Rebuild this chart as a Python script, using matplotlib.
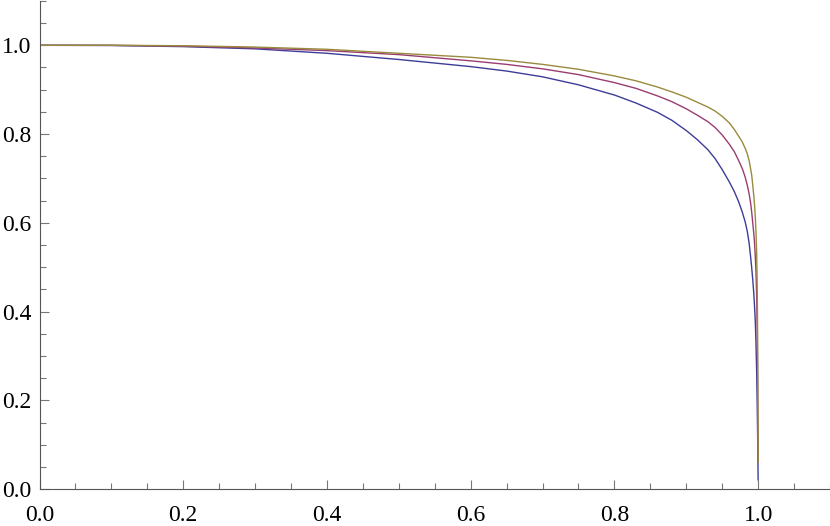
import numpy as np
import matplotlib.pyplot as plt
from matplotlib.ticker import MultipleLocator

plt.rcParams['font.family'] = 'serif'
plt.rcParams['font.serif'] = ['Liberation Serif', 'DejaVu Serif']

# values
x_blue = [0, 0.1, 0.2, 0.3, 0.4, 0.5, 0.6, 0.65, 0.7, 0.75, 0.8, 0.83, 0.86, 0.88, 0.9, 0.915, 0.93, 0.94,
          0.95, 0.96, 0.967, 0.973, 0.978, 0.982, 0.985, 0.9875, 0.9895, 0.991, 0.9925, 0.994, 0.995,
          0.996, 0.997, 0.998, 0.9987, 0.9993, 1.0]
y_blue = [1.0, 0.9995, 0.997, 0.992, 0.982, 0.968, 0.952, 0.942, 0.929, 0.911, 0.888, 0.870, 0.849, 0.831, 0.808, 0.788, 0.765, 0.745,
          0.720, 0.692, 0.670, 0.647, 0.624, 0.602, 0.580, 0.554, 0.524, 0.50, 0.472, 0.440, 0.412,
          0.380, 0.330, 0.26, 0.19, 0.12, 0.021]

x_purple = [0, 0.1, 0.2, 0.3, 0.4, 0.5, 0.6, 0.65, 0.7, 0.75, 0.8, 0.83, 0.86, 0.88, 0.9, 0.915, 0.93, 0.94,
            0.95, 0.96, 0.967, 0.973, 0.978, 0.982, 0.985, 0.9875, 0.9895, 0.991, 0.9925, 0.994, 0.995,
            0.996, 0.997, 0.998, 0.9987, 0.9993, 1.0]
y_purple = [1.0, 1.0, 0.998, 0.994, 0.988, 0.979, 0.965, 0.957, 0.947, 0.934, 0.916, 0.903, 0.886, 0.873, 0.857, 0.843, 0.828, 0.815,
            0.798, 0.777, 0.760, 0.740, 0.722, 0.703, 0.684, 0.665, 0.645, 0.625, 0.600, 0.575, 0.555,
            0.525, 0.490, 0.43, 0.36, 0.25, 0.062]

x_gold = [0, 0.1, 0.2, 0.3, 0.4, 0.5, 0.6, 0.65, 0.7, 0.75, 0.8, 0.83, 0.86, 0.88, 0.9, 0.915, 0.93, 0.94,
          0.95, 0.96, 0.967, 0.973, 0.978, 0.982, 0.985, 0.9875, 0.9895, 0.991, 0.9925, 0.994, 0.995,
          0.996, 0.997, 0.998, 0.9987, 0.9993, 1.0]
y_gold = [1.0, 1.0, 0.999, 0.996, 0.991, 0.982, 0.973, 0.966, 0.957, 0.946, 0.931, 0.920, 0.906, 0.895, 0.883, 0.872, 0.861, 0.852,
          0.840, 0.825, 0.810, 0.795, 0.782, 0.768, 0.755, 0.740, 0.722, 0.708, 0.685, 0.660, 0.640,
          0.615, 0.580, 0.53, 0.46, 0.35, 0.062]

fig = plt.figure(figsize=(8.3, 5.26), dpi=100)
ax = fig.add_axes([0.0476, 0.0698, 0.9524, 0.9285])

ax.plot(x_blue, y_blue, color='#3d3d99', lw=1.0)
ax.plot(x_purple, y_purple, color='#993d71', lw=1.0)
ax.plot(x_gold, y_gold, color='#998b3d', lw=1.0)

ax.set_xlim(0, 1.1)
ax.set_ylim(0, 1.1)
ax.xaxis.set_major_locator(MultipleLocator(0.2))
ax.yaxis.set_major_locator(MultipleLocator(0.2))
ax.xaxis.set_minor_locator(MultipleLocator(0.05))
ax.yaxis.set_minor_locator(MultipleLocator(0.05))
ax.xaxis.set_major_formatter(lambda v, p: '%.1f' % v)
ax.yaxis.set_major_formatter(lambda v, p: '%.1f' % v)

for s in ['top', 'right']:
    ax.spines[s].set_visible(False)
for s in ['left', 'bottom']:
    ax.spines[s].set_color('#555555')
    ax.spines[s].set_linewidth(0.8)

ax.tick_params(which='both', direction='in', color='#777777', width=0.8, labelsize=17)
ax.tick_params(which='major', length=6.7)
ax.tick_params(which='minor', length=4.2)
ax.tick_params(axis='x', pad=11)
ax.tick_params(axis='y', pad=6)

fig.savefig('out.png', dpi=100)
